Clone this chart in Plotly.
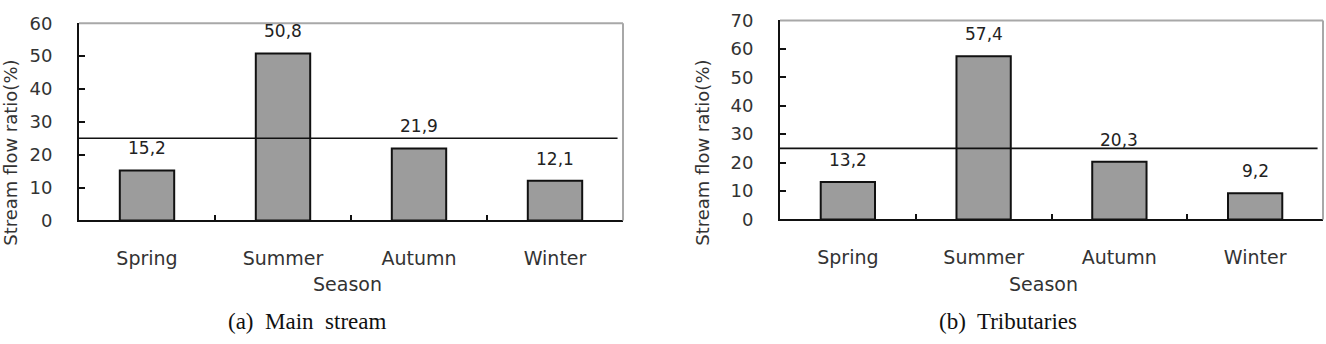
import plotly.graph_objects as go

# ---- data ----
seasons = ["Spring", "Summer", "Autumn", "Winter"]
main_stream = [15.2, 50.8, 21.9, 12.1]
tributaries = [13.2, 57.4, 20.3, 9.2]
mean_ratio = 25  # equal-share reference line (100 % / 4 seasons)
main_yticks = [0, 10, 20, 30, 40, 50, 60]
trib_yticks = [0, 10, 20, 30, 40, 50, 60, 70]
captions = ["(a)\u00a0 Main\u00a0 stream", "(b)\u00a0 Tributaries"]
y_title = "Stream flow ratio(%)"
x_title = "Season"

W, H = 1326, 344
SANS = "DejaVu Sans"
TXT = "#333333"

fig = go.Figure()

def fmt(v):
    return f"{v:.1f}".replace(".", ",")

panels = [
    dict(vals=main_stream, ticks=main_yticks, xa="x", ya="y",
         xdom=[79 / W, 623 / W], ydom=[(H - 223) / H, (H - 13) / H]),
    dict(vals=tributaries, ticks=trib_yticks, xa="x2", ya="y2",
         xdom=[780 / W, 1323 / W], ydom=[(H - 222) / H, (H - 10) / H]),
]

annotations = []
shapes = []
for i, p in enumerate(panels):
    fig.add_trace(go.Bar(
        x=seasons, y=p["vals"], xaxis=p["xa"], yaxis=p["ya"],
        width=0.4, marker=dict(color="#9c9c9c", line=dict(color="#111111", width=2)),
        showlegend=False, hoverinfo="x+y",
    ))
    for s, v in zip(seasons, p["vals"]):
        annotations.append(dict(
            x=s, y=v, xref=p["xa"], yref=p["ya"], text=fmt(v), showarrow=False,
            yshift=22, font=dict(family=SANS, size=17, color="#222222"),
        ))
    # mean reference line
    shapes.append(dict(type="line", xref=f"{p['xa']} domain", yref=p["ya"],
                       x0=0, x1=0.99, y0=mean_ratio, y1=mean_ratio,
                       line=dict(color="#111111", width=1.6), layer="above"))
    # thin gray top and right frame
    shapes.append(dict(type="line", xref=f"{p['xa']} domain", yref=f"{p['ya']} domain",
                       x0=0, x1=1, y0=1, y1=1, line=dict(color="#a8a8a8", width=2)))
    shapes.append(dict(type="line", xref=f"{p['xa']} domain", yref=f"{p['ya']} domain",
                       x0=1, x1=1, y0=0, y1=1, line=dict(color="#a8a8a8", width=2)))

    xkey = "xaxis" if i == 0 else "xaxis2"
    ykey = "yaxis" if i == 0 else "yaxis2"
    fig.update_layout(**{
        xkey: dict(domain=p["xdom"], anchor=p["ya"], showline=True, linecolor="#111111",
                   linewidth=2, ticks="inside", tickson="boundaries", ticklen=5,
                   tickwidth=2, tickcolor="#111111", showgrid=False, zeroline=False,
                   tickfont=dict(family=SANS, size=19, color=TXT),
                   ticklabelstandoff=20, range=[-0.5, 3.5], fixedrange=True),
        ykey: dict(domain=p["ydom"], anchor=p["xa"], showline=True, linecolor="#111111",
                   linewidth=2, ticks="inside", ticklen=6, tickwidth=2,
                   tickcolor="#111111", tickvals=p["ticks"],
                   range=[p["ticks"][0], p["ticks"][-1]], showgrid=False,
                   zeroline=False, tickfont=dict(family=SANS, size=18, color=TXT),
                   ticklabelstandoff=21, fixedrange=True),
    })

# axis titles and captions
for xpos in [11 / W, 703 / W]:
    annotations.append(dict(x=xpos, y=(H - 151) / H, xref="paper", yref="paper",
                            text=y_title, textangle=-90, showarrow=False,
                            xanchor="center", yanchor="middle",
                            font=dict(family=SANS, size=18, color=TXT)))
for xpos in [347 / W, 1043 / W]:
    annotations.append(dict(x=xpos, y=(H - 291) / H, xref="paper", yref="paper",
                            text=x_title, showarrow=False, xanchor="center",
                            yanchor="middle", font=dict(family=SANS, size=19, color=TXT)))
for xpos, cap in zip([307 / W, 1007.5 / W], captions):
    annotations.append(dict(x=xpos, y=(H - 331) / H, xref="paper", yref="paper",
                            text=cap, showarrow=False, xanchor="center",
                            yanchor="middle",
                            font=dict(family="Liberation Serif", size=23, color="#111111")))

fig.update_layout(
    width=W, height=H, margin=dict(l=0, r=0, t=0, b=0),
    paper_bgcolor="white", plot_bgcolor="white",
    annotations=annotations, shapes=shapes, bargap=0.6,
)

fig.write_html("out.html")
